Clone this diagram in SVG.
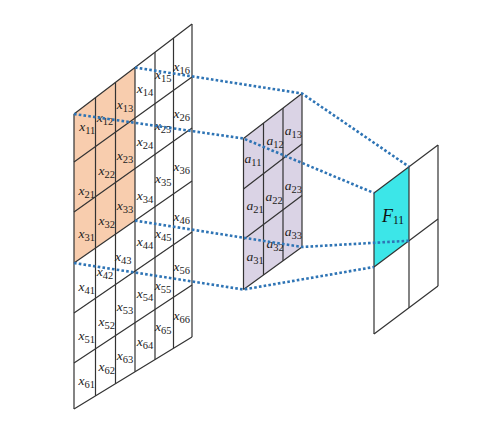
<svg xmlns="http://www.w3.org/2000/svg" width="499" height="422" viewBox="0 0 499 422">
<style>
.g{fill:none;stroke:#333;stroke-width:1.2;stroke-linejoin:miter}
.lx{font-family:"Liberation Serif","DejaVu Serif",serif;font-style:italic;font-size:13.5px;fill:#222;text-anchor:middle}
.sub{font-size:10.5px;font-style:normal}
.c{fill:none;stroke:#2E74B5;stroke-width:2.6;stroke-dasharray:2.6 2.2}
.f{font-family:"Liberation Serif","DejaVu Serif",serif;font-style:italic;font-size:18px;fill:#111}
</style>
<rect width="499" height="422" fill="#fff"/>
<g id="input">
<polygon points="74,114 135,67.5 135,220.6 74,263" fill="#F8CDAE"/>
<path class="g" d="M74,114 L192,24 M74,162 L192,77 M74,212 L192,128 M74,263 L192,181 M74,313 L192,232 M74,363 L192,285 M74,409 L192,337"/>
<path class="g" d="M74,114 V409 M95.5,97.6 V395.9 M115.5,82.4 V383.7 M135,67.5 V371.8 M155,52.2 V359.6 M173.5,38.1 V348.3 M192,24 V337"/>
<text class="lx" x="87.3" y="131.3">x<tspan class="sub" dy="3">11</tspan></text>
<text class="lx" x="105" y="122.3">x<tspan class="sub" dy="3">12</tspan></text>
<text class="lx" x="125" y="109">x<tspan class="sub" dy="3">13</tspan></text>
<text class="lx" x="145" y="93">x<tspan class="sub" dy="3">14</tspan></text>
<text class="lx" x="163.3" y="79">x<tspan class="sub" dy="3">15</tspan></text>
<text class="lx" x="181.7" y="71.3">x<tspan class="sub" dy="3">16</tspan></text>
<text class="lx" x="86.7" y="194.7">x<tspan class="sub" dy="3">21</tspan></text>
<text class="lx" x="106.7" y="174.7">x<tspan class="sub" dy="3">22</tspan></text>
<text class="lx" x="125" y="159.7">x<tspan class="sub" dy="3">23</tspan></text>
<text class="lx" x="145" y="146">x<tspan class="sub" dy="3">24</tspan></text>
<text class="lx" x="163" y="129.7">x<tspan class="sub" dy="3">25</tspan></text>
<text class="lx" x="181.7" y="118">x<tspan class="sub" dy="3">26</tspan></text>
<text class="lx" x="86.7" y="238">x<tspan class="sub" dy="3">31</tspan></text>
<text class="lx" x="106.7" y="224.7">x<tspan class="sub" dy="3">32</tspan></text>
<text class="lx" x="125" y="209.7">x<tspan class="sub" dy="3">33</tspan></text>
<text class="lx" x="145" y="199.7">x<tspan class="sub" dy="3">34</tspan></text>
<text class="lx" x="163.3" y="183">x<tspan class="sub" dy="3">35</tspan></text>
<text class="lx" x="181.7" y="171">x<tspan class="sub" dy="3">36</tspan></text>
<text class="lx" x="86.7" y="291">x<tspan class="sub" dy="3">41</tspan></text>
<text class="lx" x="105" y="276">x<tspan class="sub" dy="3">42</tspan></text>
<text class="lx" x="123.3" y="261">x<tspan class="sub" dy="3">43</tspan></text>
<text class="lx" x="145" y="246">x<tspan class="sub" dy="3">44</tspan></text>
<text class="lx" x="163.3" y="238">x<tspan class="sub" dy="3">45</tspan></text>
<text class="lx" x="181.7" y="221">x<tspan class="sub" dy="3">46</tspan></text>
<text class="lx" x="86.7" y="339.7">x<tspan class="sub" dy="3">51</tspan></text>
<text class="lx" x="106.7" y="326">x<tspan class="sub" dy="3">52</tspan></text>
<text class="lx" x="125" y="311">x<tspan class="sub" dy="3">53</tspan></text>
<text class="lx" x="145" y="298">x<tspan class="sub" dy="3">54</tspan></text>
<text class="lx" x="163" y="290">x<tspan class="sub" dy="3">55</tspan></text>
<text class="lx" x="181.7" y="271.3">x<tspan class="sub" dy="3">56</tspan></text>
<text class="lx" x="86.7" y="384.7">x<tspan class="sub" dy="3">61</tspan></text>
<text class="lx" x="106.7" y="371">x<tspan class="sub" dy="3">62</tspan></text>
<text class="lx" x="125" y="359.7">x<tspan class="sub" dy="3">63</tspan></text>
<text class="lx" x="145" y="346">x<tspan class="sub" dy="3">64</tspan></text>
<text class="lx" x="163.3" y="331">x<tspan class="sub" dy="3">65</tspan></text>
<text class="lx" x="181.7" y="319.7">x<tspan class="sub" dy="3">66</tspan></text>
</g>
<g id="kernel">
<polygon points="243.5,138.5 302,93.5 302,247 243.5,289.5" fill="#DAD3E5"/>
<path class="g" d="M243.5,138.5 L302,93.5 M243.5,189 L302,144 M243.5,239.5 L302,195.5 M243.5,289.5 L302,247"/>
<path class="g" d="M243.5,138.5 V289.5 M263.5,123.1 V275 M283,108.1 V260.8 M302,93.5 V247"/>
<text class="lx" x="253" y="163">a<tspan class="sub" dy="3">11</tspan></text>
<text class="lx" x="275" y="144.7">a<tspan class="sub" dy="3">12</tspan></text>
<text class="lx" x="293.3" y="134.7">a<tspan class="sub" dy="3">13</tspan></text>
<text class="lx" x="255" y="209.7">a<tspan class="sub" dy="3">21</tspan></text>
<text class="lx" x="274" y="201.3">a<tspan class="sub" dy="3">22</tspan></text>
<text class="lx" x="293.3" y="189.7">a<tspan class="sub" dy="3">23</tspan></text>
<text class="lx" x="255" y="261.3">a<tspan class="sub" dy="3">31</tspan></text>
<text class="lx" x="275" y="248">a<tspan class="sub" dy="3">32</tspan></text>
<text class="lx" x="293.3" y="236.3">a<tspan class="sub" dy="3">33</tspan></text>
</g>
<g id="output">
<polygon points="374,193 409,166.75 409,240.75 374,267" fill="#3CE6E8"/>
<path class="g" d="M374,193 L438,145 M374,267 L438,219 M374,334 L438,286"/>
<path class="g" d="M374,193 V334 M409,166.75 V307.75 M438,145 V286"/>
<text class="f" x="382" y="222">F<tspan font-size="11.5" font-style="normal" dy="1.5">11</tspan></text>
</g>
<g id="connectors">
<polyline class="c" points="135,67.5 302,93.5 409,166.75"/>
<polyline class="c" points="74,114 243.5,138.5 374,193"/>
<polyline class="c" points="135,220.6 302,247 409,240.75"/>
<polyline class="c" points="74,263 243.5,289.5 374,267"/>
</g>
</svg>
